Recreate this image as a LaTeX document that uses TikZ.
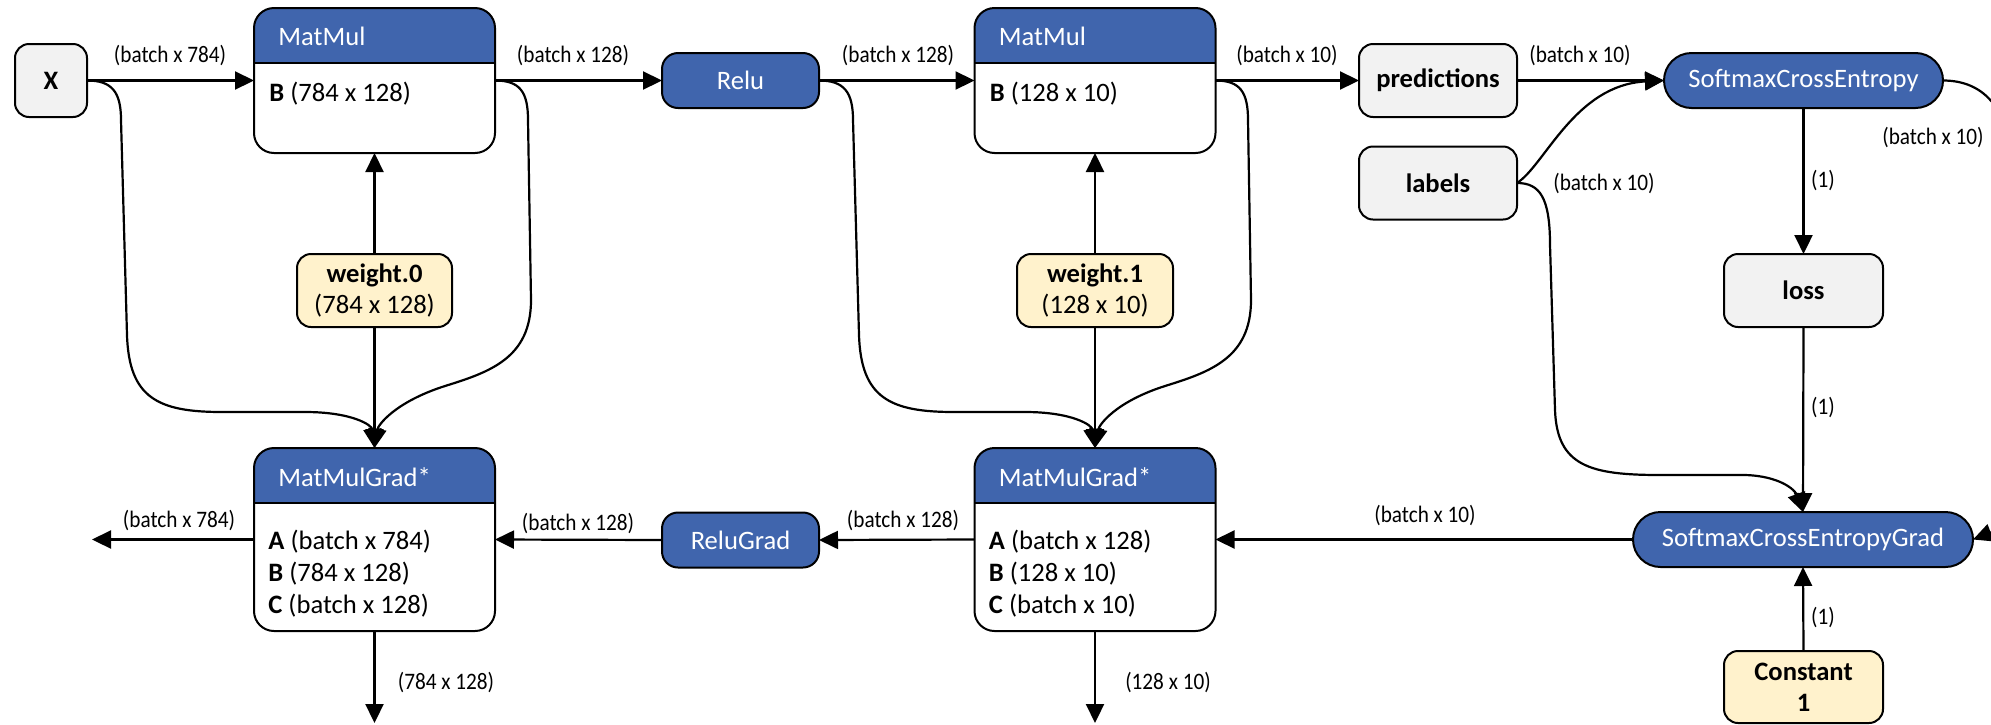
\documentclass[tikz,border=0pt]{standalone}
\usepackage{fontspec}
\setmainfont{Carlito}
\newfontfamily\lblfont{Carlito}[FakeStretch=0.9]
\usetikzlibrary{arrows.meta,calc}
\definecolor{hdrblue}{RGB}{64,101,173}
\definecolor{boxgray}{RGB}{242,242,242}
\definecolor{wyellow}{RGB}{255,242,204}
\tikzset{
  base/.style={draw=black, line width=1pt, inner sep=0pt, outer sep=0pt,
    font=\fontsize{13.3}{16}\selectfont},
  gbox/.style={base, fill=boxgray, rounded corners=7pt, minimum width=#1,
    minimum height=36.5pt, font=\fontsize{13.3}{16}\selectfont\bfseries},
  wbox/.style={base, fill=wyellow, rounded corners=7pt, minimum width=#1,
    minimum height=36.5pt, align=center, font=\fontsize{13.3}{15.5}\selectfont},
  bpill/.style 2 args={base, fill=hdrblue, text=white, rounded corners=#2,
    minimum width=#1, minimum height=27.5pt},
  mmbox/.style={base, fill=white, rounded corners=10pt, minimum width=120.5pt,
    minimum height=#1,
    path picture={
      \fill[hdrblue, sharp corners] (path picture bounding box.north west) rectangle
        ([yshift=-27.5pt]path picture bounding box.north east);
      \draw[line width=0.9pt, sharp corners] ([yshift=-27.5pt]path picture bounding box.north west) --
        ([yshift=-27.5pt]path picture bounding box.north east);}},
  ttl/.style={inner sep=0pt, text=white, font=\fontsize{13.3}{16}\selectfont, anchor=west},
  bodytxt/.style={inner sep=0pt, align=left, font=\fontsize{13.3}{16}\selectfont, anchor=west},
  lbl/.style={inner sep=0pt, font=\lblfont\fontsize{11.8}{14}\selectfont},
  conn/.style={line width=1.1pt, -{Triangle[length=9.5pt,width=9pt]}},
}
\begin{document}
\begin{tikzpicture}[x=0.5pt,y=-0.5pt]
\useasboundingbox (0,0) rectangle (1991,724);
\clip (0,0) rectangle (1991,724);
\fill[white] (0,0) rectangle (1991,724);

% ---- nodes ----
\node[gbox=36pt] (X) at (51,80.5) {X};
\node[mmbox=72.5pt] (mm1) at (374.5,80.5) {};
\node[ttl] (mm1t) at ($(mm1.north west)+(24,28)$) {MatMul};
\node[bodytxt] (mm1b) at ($(mm1.north west)+(15,86)$) {\textbf{B} (784 x 128)};
\node[wbox=77.5pt] (w0) at (374.5,290.5) {\textbf{weight.0}\\(784 x 128)};
\node[mmbox=91.5pt] (mmg1) at (374.5,539.5) {};
\node[ttl] (mmg1t) at ($(mmg1.north west)+(24,29)$) {MatMulGrad*};
\node[bodytxt] (mmg1b) at ($(mmg1.north west)+(14,126)$) {\textbf{A} (batch x 784)\\\textbf{B} (784 x 128)\\\textbf{C} (batch x 128)};

\node[bpill={78.5pt}{8pt}] (relu) at (740.5,80.5) {Relu};
\node[bpill={78.5pt}{8pt}] (relug) at (740.5,540) {ReluGrad};

\node[mmbox=72.5pt] (mm2) at (1095,80.5) {};
\node[ttl] (mm2t) at ($(mm2.north west)+(24,28)$) {MatMul};
\node[bodytxt] (mm2b) at ($(mm2.north west)+(15,86)$) {\textbf{B} (128 x 10)};
\node[wbox=78pt] (w1) at (1095,290.5) {\textbf{weight.1}\\(128 x 10)};
\node[mmbox=91.5pt] (mmg2) at (1095,539.5) {};
\node[ttl] (mmg2t) at ($(mmg2.north west)+(24,29)$) {MatMulGrad*};
\node[bodytxt] (mmg2b) at ($(mmg2.north west)+(14,126)$) {\textbf{A} (batch x 128)\\\textbf{B} (128 x 10)\\\textbf{C} (batch x 10)};

\node[gbox=79pt] (pred) at (1438,80.5) {predictions};
\node[gbox=79pt] (labels) at (1438,183) {labels};
\node[bpill={139.5pt}{13.75pt}] (sce) at (1803.5,80.5) {SoftmaxCrossEntropy};
\node[gbox=79.5pt] (loss) at (1803.5,290.5) {loss};
\node[bpill={170pt}{13.75pt}] (sceg) at (1803,539.5) {SoftmaxCrossEntropyGrad};
\node[wbox=79.5pt, minimum height=36pt, font=\fontsize{13.3}{15.5}\selectfont\bfseries] (const) at (1803.5,687) {Constant\\1};

\coordinate (outA) at (92,539.5);
\coordinate (outB) at (374.5,723);
\coordinate (outC) at (1095,723);

% ---- straight connectors ----
\draw[conn] (X.east) -- (mm1.west);
\draw[conn] (mm1.east) -- (relu.west);
\draw[conn] (relu.east) -- (mm2.west);
\draw[conn] (mm2.east) -- (pred.west);
\draw[conn] (pred.east) -- (sce.west);
\draw[conn] (w0.north) -- (mm1.south);
\draw[conn] (w1.north) -- (mm2.south);
\draw[conn] (w0.south) -- (mmg1.north);
\draw[conn] (w1.south) -- (mmg2.north);
\draw[conn] (sce.south) -- (loss.north);
\draw[conn] (loss.south) -- (sceg.north);
\draw[conn] (const.north) -- (sceg.south);
\draw[conn] (sceg.west) -- (mmg2.east);
\draw[conn] (mmg2.west) -- (relug.east);
\draw[conn] (relug.west) -- (mmg1.east);
\draw[conn] (mmg1.west) -- (outA);
\draw[conn] (mmg1.south) -- (outB);
\draw[conn] (mmg2.south) -- (outC);

% ---- curved connectors ----
\draw[conn] (X.east) .. controls (112,80.5) and (121,92) .. (121,120) -- (127,335)
  .. controls (129,398) and (158,412) .. (222,412) -- (305,412)
  .. controls (352,412) and (372,425) .. (mmg1.north);
\draw[conn] (mm1.east) .. controls (520,80.5) and (528,92) .. (528,120) -- (531,300)
  .. controls (531,358) and (490,372) .. (445,386)
  .. controls (395,402) and (378,425) .. (mmg1.north);
\draw[conn] (relu.east) .. controls (844,80.5) and (853,92) .. (853,120) -- (859,335)
  .. controls (861,398) and (890,412) .. (954,412) -- (1025,412)
  .. controls (1072,412) and (1092,425) .. (mmg2.north);
\draw[conn] (mm2.east) .. controls (1240,80.5) and (1248,92) .. (1248,120) -- (1251,300)
  .. controls (1251,358) and (1210,372) .. (1165,386)
  .. controls (1115,402) and (1099,425) .. (mmg2.north);
\draw[conn] (labels.east) .. controls (1545,165) and (1575,85) .. (sce.west);
\draw[conn] (labels.east) .. controls (1540,183) and (1550,198) .. (1550,245) -- (1555,410)
  .. controls (1557,466) and (1590,475) .. (1660,475) -- (1745,475)
  .. controls (1780,476) and (1795,490) .. (sceg.north);
\draw[conn] (sce.east) .. controls (1985,80.5) and (2012,110) .. (2015,180) -- (2015,450)
  .. controls (2015,505) and (1998,530) .. (sceg.east);

% ---- labels ----
\node[lbl] (l1) at (170,56) {(batch x 784)};
\node[lbl] (l2) at (573,56) {(batch x 128)};
\node[lbl] (l3) at (898,56) {(batch x 128)};
\node[lbl] (l4) at (1287,56) {(batch x 10)};
\node[lbl] (l5) at (1580,56) {(batch x 10)};
\node[lbl] (l6) at (1604,183) {(batch x 10)};
\node[lbl] (l7) at (1933,137) {(batch x 10)};
\node[lbl] (l8) at (1823,180) {(1)};
\node[lbl] (l9) at (1823,407) {(1)};
\node[lbl] (l10) at (1823,617) {(1)};
\node[lbl] (l11) at (1425,515) {(batch x 10)};
\node[lbl] (l12) at (903,520) {(batch x 128)};
\node[lbl] (l13) at (578,523) {(batch x 128)};
\node[lbl] (l14) at (179,520) {(batch x 784)};
\node[lbl] (l15) at (446,682) {(784 x 128)};
\node[lbl] (l16) at (1168,682) {(128 x 10)};
\end{tikzpicture}
\end{document}
